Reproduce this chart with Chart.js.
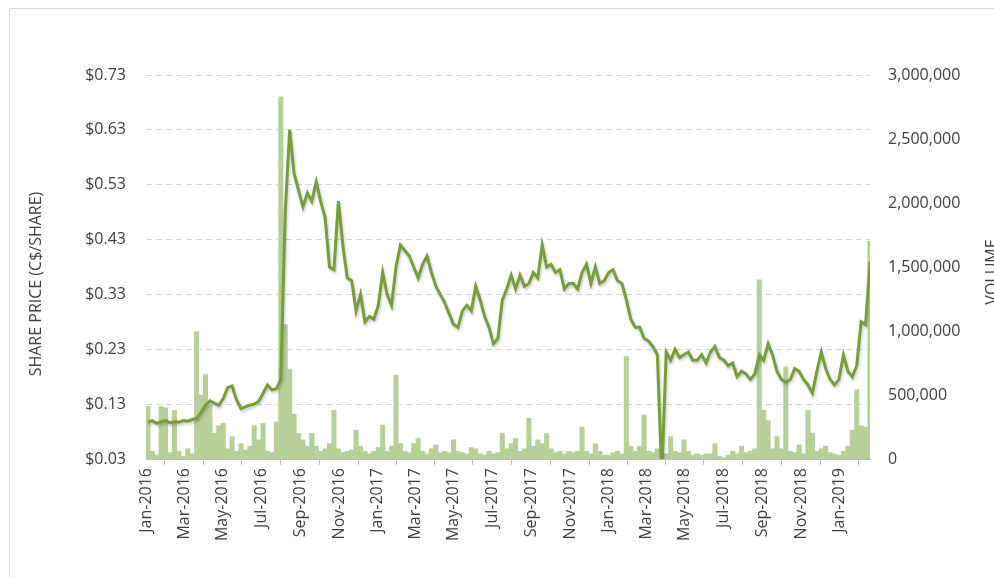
<!DOCTYPE html>
<html>
  <head>
    <title>Share price and volume</title>
    <meta charset="UTF-8">
    <script src="https://cdn.jsdelivr.net/npm/chart.js@4.4.1/dist/chart.umd.min.js"></script>
    <style type="text/css">
      body { margin: 0; overflow: hidden; background: #fff; }
      #frame { position: absolute; left: 9px; top: 8px; width: 1200px; height: 800px;
               border-left: 1px solid #d9d9d9; border-top: 1px solid #d9d9d9; }
      #wrap { position: absolute; left: 0; top: 0; width: 994px; height: 577px; }
    </style>
  </head>
  <body>
    <div id="frame"></div>
    <div id="wrap"><canvas id="price-chart"></canvas></div>
    <script type="text/javascript">
      // weekly samples, first one on the Monday below
      const firstWeek = '2016-01-04';

      // C$ per share, one per week
      const prices = [
        0.097, 0.100, 0.095, 0.098, 0.100, 0.096, 0.098, 0.097, 0.100, 0.099,
        0.102, 0.104, 0.115, 0.128, 0.136, 0.132, 0.128, 0.140, 0.160, 0.163,
        0.138, 0.122, 0.125, 0.128, 0.130, 0.135, 0.150, 0.165, 0.156, 0.158,
        0.175, 0.480, 0.630, 0.550, 0.520, 0.490, 0.515, 0.500, 0.535, 0.500,
        0.470, 0.380, 0.375, 0.500, 0.420, 0.360, 0.355, 0.300, 0.330, 0.280,
        0.290, 0.285, 0.310, 0.370, 0.330, 0.310, 0.380, 0.420, 0.410, 0.400,
        0.380, 0.360, 0.385, 0.400, 0.370, 0.345, 0.330, 0.315, 0.295, 0.275,
        0.270, 0.300, 0.310, 0.300, 0.345, 0.320, 0.290, 0.270, 0.240, 0.250,
        0.320, 0.340, 0.365, 0.340, 0.365, 0.345, 0.350, 0.370, 0.360, 0.420,
        0.380, 0.385, 0.370, 0.375, 0.340, 0.350, 0.350, 0.340, 0.370, 0.385,
        0.350, 0.380, 0.350, 0.355, 0.370, 0.375, 0.355, 0.350, 0.320, 0.285,
        0.270, 0.270, 0.250, 0.245, 0.235, 0.220, 0.000, 0.225, 0.210, 0.230,
        0.215, 0.220, 0.225, 0.210, 0.210, 0.220, 0.205, 0.225, 0.235, 0.215,
        0.210, 0.200, 0.205, 0.180, 0.190, 0.185, 0.175, 0.185, 0.220, 0.210,
        0.240, 0.220, 0.190, 0.175, 0.170, 0.175, 0.195, 0.190, 0.175, 0.165,
        0.150, 0.190, 0.225, 0.195, 0.175, 0.165, 0.175, 0.220, 0.190, 0.180,
        0.200, 0.280, 0.275, 0.390
      ];

      // shares traded, thousands, one per week
      const volumes = [
        410, 60, 30, 410, 400, 50, 380, 60, 20, 80,
        40, 995, 500, 660, 420, 200, 260, 280, 80, 175,
        60, 120, 70, 100, 260, 150, 280, 60, 50, 290,
        2830, 1050, 700, 350, 200, 150, 100, 200, 100, 60,
        80, 120, 380, 80, 50, 60, 70, 225, 100, 60,
        40, 60, 90, 265, 60, 100, 655, 120, 60, 50,
        120, 160, 60, 40, 80, 110, 50, 60, 50, 150,
        60, 50, 40, 90, 80, 40, 30, 60, 40, 50,
        200, 80, 120, 160, 60, 80, 318, 100, 150, 120,
        200, 80, 50, 60, 40, 60, 50, 60, 250, 60,
        40, 120, 60, 30, 30, 50, 60, 40, 800, 100,
        60, 100, 344, 60, 50, 80, 0, 40, 175, 60,
        50, 150, 60, 30, 40, 30, 40, 40, 120, 20,
        10, 30, 60, 40, 100, 50, 60, 80, 1400, 380,
        300, 80, 175, 80, 720, 60, 50, 110, 40, 380,
        200, 60, 80, 100, 50, 40, 30, 60, 100, 225,
        540, 260, 250, 1700
      ];

      const tickLabels = [
        "Jan-2016", "Mar-2016", "May-2016", "Jul-2016", "Sep-2016", "Nov-2016",
        "Jan-2017", "Mar-2017", "May-2017", "Jul-2017", "Sep-2017", "Nov-2017",
        "Jan-2018", "Mar-2018", "May-2018", "Jul-2018", "Sep-2018", "Nov-2018",
        "Jan-2019"
      ];

      const leftTitle = "SHARE PRICE (C$/SHARE)";
      const rightTitle = "VOLUME";

      const DAY = 864e5;
      const origin = Date.UTC(2016, 0, 1);
      const months = ["Jan","Feb","Mar","Apr","May","Jun","Jul","Aug","Sep","Oct","Nov","Dec"];
      const dayOf = ms => (ms - origin) / DAY;
      const week0 = dayOf(Date.parse(firstWeek + "T00:00:00Z"));

      const tickDays = tickLabels.map(l => {
        const [m, y] = l.split("-");
        return dayOf(Date.UTC(+y, months.indexOf(m), 1));
      });

      const pricePts = prices.map((p, i) => ({x: week0 + i * 7, y: p}));
      const volumePts = volumes.map((v, i) => ({x: week0 + i * 7, y: v * 1000}));
      const lastDay = week0 + (prices.length - 1) * 7;

      Chart.defaults.font.family = "'Open Sans', sans-serif";
      Chart.defaults.font.size = 16;
      Chart.defaults.color = "#404040";

      // axis titles sit off-centre in the original, so draw them by hand
      const axisTitles = {
        id: "axisTitles",
        afterDraw(chart) {
          const ctx = chart.ctx;
          [[leftTitle, 36, 284], [rightTitle, 992, 272]].forEach(([txt, x, y]) => {
            ctx.save();
            ctx.font = "16px 'Open Sans'";
            ctx.fillStyle = "#404040";
            ctx.textAlign = "center";
            ctx.textBaseline = "middle";
            ctx.translate(x, y);
            ctx.rotate(-Math.PI / 2);
            ctx.fillText(txt, 0, 0);
            ctx.restore();
          });
        }
      };

      // soft drop shadow under the price line, like the spreadsheet original
      const lineShadow = {
        id: "lineShadow",
        beforeDatasetDraw(chart, args) {
          if (args.index !== 0) return;
          const c = chart.ctx;
          c.save();
          c.shadowColor = "rgba(0,0,0,0.22)";
          c.shadowBlur = 3;
          c.shadowOffsetX = 1;
          c.shadowOffsetY = 2;
        },
        afterDatasetDraw(chart, args) {
          if (args.index !== 0) return;
          chart.ctx.restore();
        }
      };

      var ctx = document.getElementById("price-chart");

      var chart = new Chart(ctx, {
        type: "line",
        data: {
          datasets: [
            {
              type: "line",
              label: "Share price",
              data: pricePts,
              yAxisID: "y",
              borderColor: "#789e3c",
              borderWidth: 3,
              pointRadius: 0,
              tension: 0,
              order: 0
            },
            {
              type: "bar",
              label: "Volume",
              data: volumePts,
              yAxisID: "y2",
              backgroundColor: "#b7d09a",
              borderWidth: 0,
              barPercentage: 1,
              categoryPercentage: 1,
              order: 1
            }
          ]
        },
        options: {
          responsive: true,
          maintainAspectRatio: false,
          animation: false,
          layout: { padding: { top: 75, left: 0, right: 0, bottom: 0 } },
          plugins: { legend: { display: false }, tooltip: { enabled: false } },
          scales: {
            x: {
              type: "linear",
              min: 0,
              max: lastDay,
              offset: false,
              afterBuildTicks: s => { s.ticks = tickDays.map(v => ({value: v})); },
              afterFit: s => { s.height = 118; },
              ticks: {
                autoSkip: false,
                minRotation: 90,
                maxRotation: 90,
                padding: 3,
                callback: (v, i) => tickLabels[i]
              },
              grid: { drawOnChartArea: false, drawTicks: true, tickLength: 6, color: "#bfbfbf" },
              border: { display: true, color: "#bfbfbf" }
            },
            y: {
              position: "left",
              min: 0.03,
              max: 0.73,
              afterFit: s => { s.width = 146; },
              ticks: {
                stepSize: 0.1,
                padding: 20,
                callback: v => "$" + v.toFixed(2)
              },
              grid: { drawTicks: false, color: "#d4d4d4" },
              border: { display: false, dash: [6, 4] }
            },
            y2: {
              position: "right",
              min: 0,
              max: 3000000,
              afterFit: s => { s.width = 124; },
              ticks: {
                stepSize: 500000,
                padding: 18,
                callback: v => v.toLocaleString("en-US")
              },
              grid: { display: false, drawTicks: false },
              border: { display: false }
            }
          }
        },
        plugins: [axisTitles, lineShadow]
      });
    </script>
  </body>
</html>
